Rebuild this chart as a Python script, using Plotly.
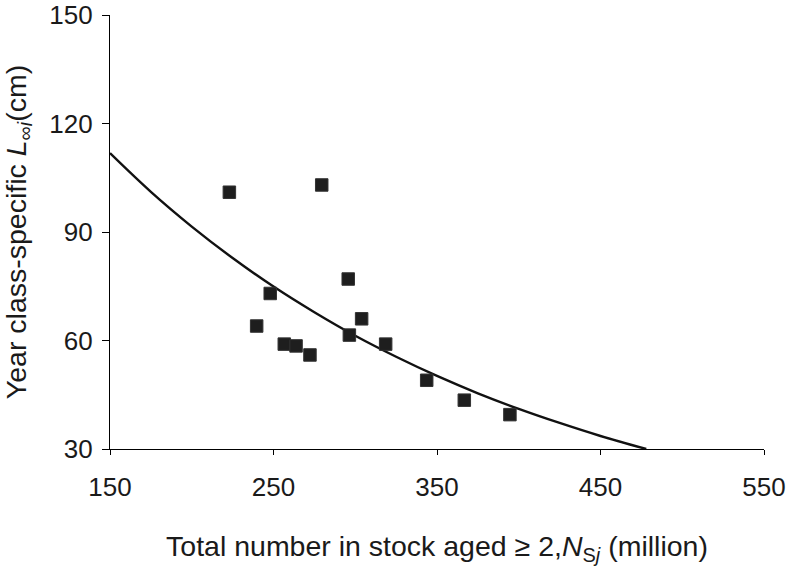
import plotly.graph_objects as go

stock_n = [223, 279.5, 295.7, 248, 239.7, 256.6, 263.8, 272.3, 296.4, 303.9, 318.6, 343.7, 366.7, 394.6]
linf = [101, 103, 77, 73, 64, 59, 58.5, 56, 61.5, 66, 59, 49, 43.5, 39.5]

# Fitted curve, values
curve_x = [150, 175, 200, 225, 250, 275, 300, 325, 350, 375, 400, 425, 450, 478]
curve_y = [111.8, 101.1, 91.5, 82.8, 74.9, 67.8, 61.3, 55.5, 50.2, 45.4, 41.1, 37.2, 33.6, 30.0]

x_ticks = [150, 250, 350, 450, 550]
y_ticks = [30, 60, 90, 120, 150]

FONT = "Liberation Sans, Arial, Helvetica, sans-serif"

fig = go.Figure()

fig.add_trace(go.Scatter(
    x=curve_x, y=curve_y, mode="lines",
    line=dict(color="#111111", width=2.4, shape="spline"),
    showlegend=False, hoverinfo="skip"))

fig.add_trace(go.Scatter(
    x=stock_n, y=linf, mode="markers",
    marker=dict(symbol="square", size=12.5, color="#1e1e1e",
                line=dict(color="#333333", width=1)),
    showlegend=False))

fig.update_layout(
    width=788, height=566,
    margin=dict(l=110, r=24, t=15, b=117),
    paper_bgcolor="white", plot_bgcolor="white",
    font=dict(family=FONT, size=26, color="#1a1a1a"),
    xaxis=dict(
        range=[150, 550], tickvals=x_ticks, showgrid=False, zeroline=False,
        automargin=False, ticklabeloverflow="allow",
        showline=True, linecolor="black", linewidth=1.3,
        ticks="outside", ticklen=5, tickcolor="black", ticklabelstandoff=10,
        title=dict(text="Total number in stock aged ≥ 2,<i>N</i><sub>S<i>j</i></sub> (million)",
                   font=dict(size=28.5), standoff=35),
    ),
    yaxis=dict(
        range=[30, 150], tickvals=y_ticks, showgrid=False, zeroline=False,
        automargin=False, ticklabeloverflow="allow",
        showline=True, linecolor="black", linewidth=1.3,
        ticks="outside", ticklen=7, tickcolor="black", ticklabelstandoff=4,
        title=dict(text="Year class-specific <i>L</i><sub>∞<i>i</i></sub>(cm)",
                   font=dict(size=28.5), standoff=25),
    ),
)

# drop the default page margin/scrollbars so the 788x566 figure fills the window exactly
fig.write_html("out.html", config={"displayModeBar": False},
               post_script="document.body.style.margin='0';document.body.style.overflow='hidden';")
